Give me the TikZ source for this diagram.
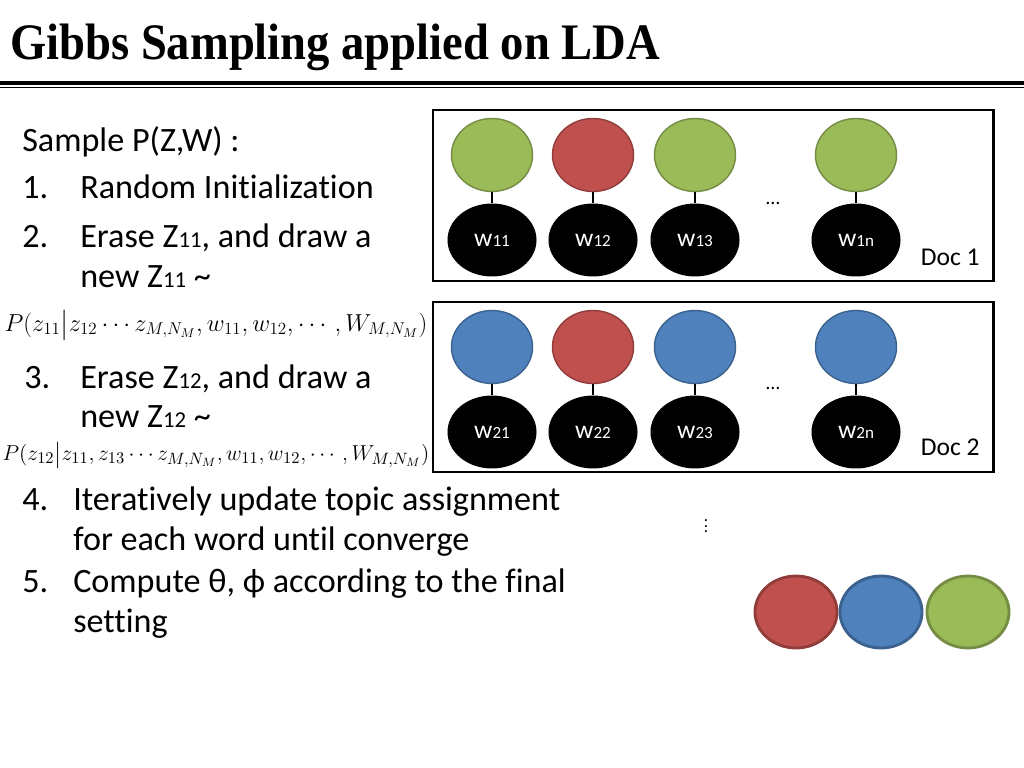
\documentclass[tikz,border=0pt]{standalone}
\usepackage{amsmath}
\usepackage{graphicx}
\usepackage{fontspec}
\setmainfont{Carlito}[Ligatures=CommonOff]
\newfontfamily\titlefont[FakeStretch=0.91]{Liberation Serif}
\usetikzlibrary{shapes.geometric}
\definecolor{t_red}{HTML}{C0504D}
\definecolor{t_blue}{HTML}{4F81BD}
\definecolor{t_green}{HTML}{9BBB59}
\newcommand{\wlab}[1]{{\fontsize{18}{18}\selectfont w}{\fontsize{12}{12}\selectfont #1}}
\newcommand{\zlab}[1]{Z{\fontsize{16}{16}\selectfont #1}}
\tikzset{
	topic/.style={
			ellipse, fill=#1, draw=#1!75!black, line width=1pt,
			minimum width=57pt, minimum height=51.3pt, inner sep=0pt
		},
	word/.style={
			ellipse, fill=black, text=white, inner sep=0pt,
			minimum width=62.6pt, minimum height=51.3pt
		},
	txt/.style={anchor=base west, inner sep=0pt, font=\fontsize{24}{24}\selectfont},
	docbox/.style={line width=2.1pt},
	link/.style={line width=2pt}
}

\begin{document}
\begin{tikzpicture}[x=0.703125pt, y=-0.703125pt]
        \useasboundingbox (0, 0) rectangle (1024, 768);
        \node[anchor=base west, inner sep=0pt, font=\titlefont\bfseries\fontsize{36}{36}\selectfont] (title) at (10, 60) {Gibbs Sampling applied on LDA};
        \draw[line width=2.8pt] (0, 83) -- (1024, 83);
        \draw[line width=1pt] (0, 87.5) -- (1024, 87.5);
        % steps
        \node[txt] (sample) at (22, 152) {Sample P(Z,W) :};
        \node[txt] (n_1) at (22, 199) {1.};
        \node[txt] (s_1) at (80, 199) {Random Initialization};
        \node[txt] (n_2) at (22, 248) {2.};
        \node[txt] (s_2) at (80, 248) {Erase \zlab{11}, and draw a};
        \node[txt] (s_2b) at (80, 287) {new \zlab{11} \textasciitilde};
        \node[inner sep=0pt, font=\fontsize{17.8}{17.8}\selectfont] (p_11) at (216, 325) {$P(z_{11}\big|z_{12}\cdots z_{M,N_M},w_{11},w_{12},\cdots,W_{M,N_M})$};
        \node[txt] (n_3) at (24, 388) {3.};
        \node[txt] (s_3) at (80, 388) {Erase \zlab{12}, and draw a};
        \node[txt] (s_3b) at (80, 427) {new \zlab{12} \textasciitilde};
        \node[inner sep=0pt, font=\fontsize{15.5}{15.5}\selectfont] (p_12) at (216, 455) {\resizebox{300pt}{!}{$P(z_{12}\big|z_{11},z_{13}\cdots z_{M,N_M},w_{11},w_{12},\cdots,W_{M,N_M})$}};
        \node[txt] (n_4) at (22, 510) {4.};
        \node[txt] (s_4) at (73, 510) {Iteratively update topic assignment};
        \node[txt] (s_4b) at (73, 550) {for each word until converge};
        \node[txt] (n_5) at (22, 592) {5.};
        \node[txt] (s_5) at (73, 592) {Compute θ, ϕ according to the final};
        \node[txt] (s_5b) at (73, 632) {setting};
        % Doc 1
        \draw[docbox] (433, 110) rectangle (993, 281);
        \node[topic=t_green] (z_11) at (492, 155) {};
        \node[topic=t_red] (z_12) at (593, 155) {};
        \node[topic=t_green] (z_13) at (695, 155) {};
        \node[topic=t_green] (z_1n) at (856, 155) {};
        \node[word] (w_11) at (492, 240) {\wlab{11}};
        \node[word] (w_12) at (593, 240) {\wlab{12}};
        \node[word] (w_13) at (695, 240) {\wlab{13}};
        \node[word] (w_1n) at (856, 240) {\wlab{1n}};
        \draw[link] (z_11) -- (w_11);
        \draw[link] (z_12) -- (w_12);
        \draw[link] (z_13) -- (w_13);
        \draw[link] (z_1n) -- (w_1n);
        \node[font=\fontsize{14}{14}\selectfont] (dots_1) at (773, 203) {…};
        \node[anchor=base east, inner sep=0pt, font=\fontsize{18}{18}\selectfont] (doc_1) at (980, 266) {Doc 1};
        % Doc 2
        \draw[docbox] (433, 302) rectangle (993, 472);
        \node[topic=t_blue] (z_21) at (492, 347) {};
        \node[topic=t_red] (z_22) at (593, 347) {};
        \node[topic=t_blue] (z_23) at (695, 347) {};
        \node[topic=t_blue] (z_2n) at (856, 347) {};
        \node[word] (w_21) at (492, 432) {\wlab{21}};
        \node[word] (w_22) at (593, 432) {\wlab{22}};
        \node[word] (w_23) at (695, 432) {\wlab{23}};
        \node[word] (w_2n) at (856, 432) {\wlab{2n}};
        \draw[link] (z_21) -- (w_21);
        \draw[link] (z_22) -- (w_22);
        \draw[link] (z_23) -- (w_23);
        \draw[link] (z_2n) -- (w_2n);
        \node[font=\fontsize{14}{14}\selectfont] (dots_2) at (773, 388) {…};
        \node[anchor=base east, inner sep=0pt, font=\fontsize{18}{18}\selectfont] (doc_2) at (980, 455) {Doc 2};
        \node[font=\fontsize{12}{12}\selectfont] (vdots) at (706, 522) {$\vdots$};
        % topics
        \node[topic=t_red, line width=2pt, minimum width=57.7pt, minimum height=50.6pt] (k_1) at (796, 612) {};
        \node[topic=t_blue, line width=2pt, minimum width=57.7pt, minimum height=50.6pt] (k_2) at (881, 612) {};
        \node[topic=t_green, line width=2pt, minimum width=57.7pt, minimum height=50.6pt] (k_3) at (968, 612) {};
    \end{tikzpicture}
\end{document}
